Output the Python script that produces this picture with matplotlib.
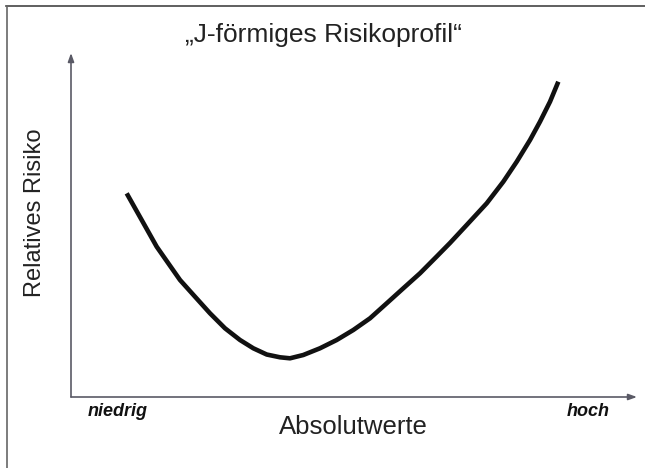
import matplotlib
matplotlib.use("Agg")
import matplotlib.pyplot as plt
from matplotlib.lines import Line2D

plt.rcParams['font.family'] = ['Liberation Sans', 'DejaVu Sans']

# Data (relative units, 0-100 on both axes)
absolutwerte = [9.84, 12.49, 15.14, 17.19, 19.26, 21.91, 24.56, 27.21, 29.86, 32.21,
                34.58, 36.93, 38.69, 41.04, 43.99, 46.94, 49.88, 52.83, 55.78, 58.71,
                61.66, 64.61, 66.96, 69.91, 73.45, 76.38, 78.75, 81.10, 82.86, 84.63,
                86.10]
relatives_risiko = [59.2, 51.45, 43.69, 38.87, 34.01, 29.16, 24.33, 19.97, 16.57, 14.16,
                    12.35, 11.54, 11.25, 12.21, 14.16, 16.57, 19.48, 22.88, 27.24, 31.60,
                    35.96, 40.84, 44.77, 50.0, 56.31, 62.59, 68.40, 74.71, 80.03, 85.84,
                    91.66]

title = "\u201eJ-f\u00f6rmiges Risikoprofil\u201c"
ylabel = "Relatives Risiko"
xlabel = "Absolutwerte"
low_label = "niedrig"
high_label = "hoch"

W, H = 645, 468
fig = plt.figure(figsize=(W / 100, H / 100), dpi=100)
fig.patch.set_facecolor("white")

# scanned frame: top and left edges
fig.add_artist(Line2D([6 / W, 1.0], [1 - 6 / H, 1 - 6 / H], transform=fig.transFigure,
                      color="#444444", lw=1.2))
fig.add_artist(Line2D([7 / W, 7 / W], [0.0, 1 - 6 / H], transform=fig.transFigure,
                      color="#666666", lw=1.2))

ax = fig.add_axes([71 / W, 1 - 397 / H, (637 - 71) / W, (397 - 53) / H])
ax.set_xlim(0, 100)
ax.set_ylim(0, 100)
for s in ax.spines.values():
    s.set_visible(False)
ax.set_xticks([])
ax.set_yticks([])
ax.patch.set_alpha(0)

# axes with arrows
ax.annotate("", xy=(1.0, 0.0), xytext=(0.0, 0.0), xycoords="axes fraction",
            arrowprops=dict(arrowstyle="-|>,head_length=0.5,head_width=0.18",
                            color="#5a5a66", lw=1.2, shrinkA=0, shrinkB=0))
ax.annotate("", xy=(0.0, 1.0), xytext=(0.0, 0.0), xycoords="axes fraction",
            arrowprops=dict(arrowstyle="-|>,head_length=0.5,head_width=0.18",
                            color="#5a5a66", lw=1.2, shrinkA=0, shrinkB=0))

ax.plot(absolutwerte, relatives_risiko, color="#111111", lw=3.3,
        solid_capstyle="butt", solid_joinstyle="round")

fig.text(323 / W, 1 - 35 / H, title, ha="center", va="center", fontsize=19, color="#222222")
fig.text(35 / W, 1 - 213 / H, ylabel, ha="center", va="center", rotation=90,
         fontsize=17, color="#222222")
fig.text(353 / W, 1 - 427 / H, xlabel, ha="center", va="center", fontsize=18.5, color="#222222")
fig.text(117.5 / W, 1 - 411 / H, low_label, ha="center", va="center", fontsize=13,
         fontweight="bold", fontstyle="italic", color="#111111")
fig.text(588.5 / W, 1 - 412 / H, high_label, ha="center", va="center", fontsize=13,
         fontweight="bold", fontstyle="italic", color="#111111")

fig.savefig("out.png", dpi=100, facecolor="white")
